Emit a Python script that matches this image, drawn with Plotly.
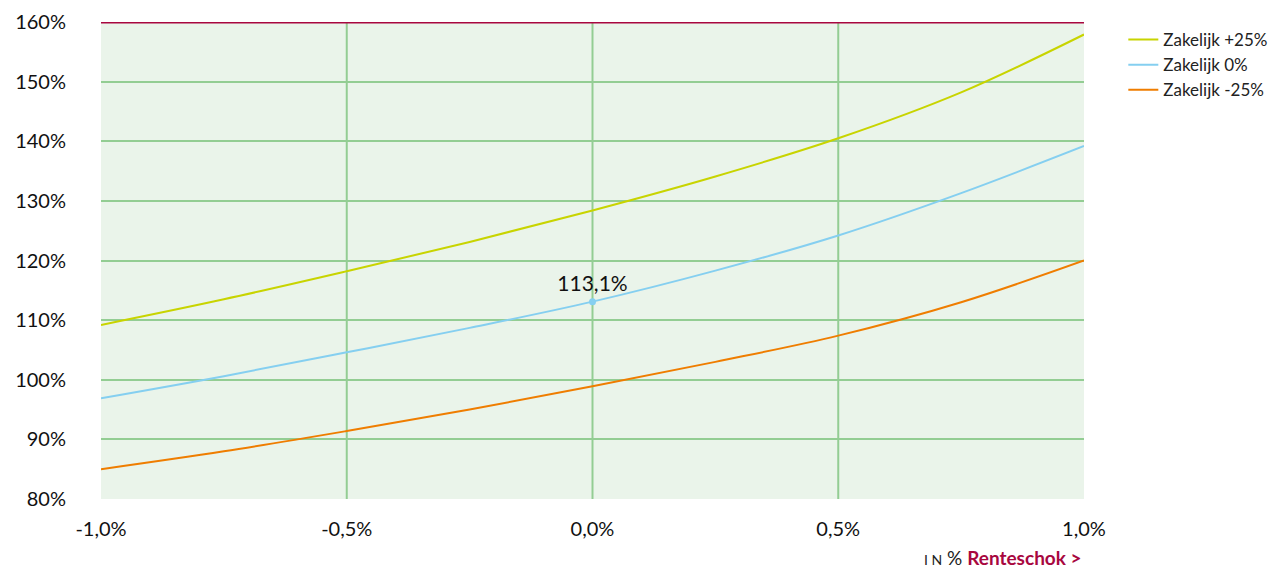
import plotly.graph_objects as go

x_vals = [-1.0, -0.75, -0.5, -0.25, 0.0, 0.25, 0.5, 0.75, 1.0]
zak_plus25 = [109.2, 113.5, 118.2, 123.1, 128.4, 134.1, 140.5, 148.2, 157.9]
zak_0 = [96.9, 100.6, 104.6, 108.7, 113.1, 118.3, 124.2, 131.3, 139.2]
zak_min25 = [85.0, 88.0, 91.4, 95.0, 98.9, 103.0, 107.4, 113.0, 120.0]
legend_names = ["Zakelijk +25%", "Zakelijk 0%", "Zakelijk -25%"]
colors = ["#c8d400", "#85cff0", "#ef7d00"]

x_tickvals = [-1.0, -0.5, 0.0, 0.5, 1.0]
x_ticktext = ["-1,0%", "-0,5%", "0,0%", "0,5%", "1,0%"]
y_tickvals = [80, 90, 100, 110, 120, 130, 140, 150, 160]
y_ticktext = [f"{v}%" for v in y_tickvals]
vgrid = [-0.5, 0.0, 0.5]
highlight_x = 0.0
highlight_y = 113.1
highlight_label = "113,1%"

FONT = "Lato, Open Sans, sans-serif"
GRID = "#93cd93"

fig = go.Figure()
for name, ys, c in zip(legend_names, [zak_plus25, zak_0, zak_min25], colors):
    fig.add_trace(go.Scatter(x=x_vals, y=ys, mode="lines", name=name,
                             line=dict(color=c, width=2, shape="spline", smoothing=1.0)))

fig.add_trace(go.Scatter(x=[highlight_x], y=[highlight_y], mode="markers+text",
                         marker=dict(color=colors[1], size=7),
                         text=[highlight_label], textposition="top center",
                         textfont=dict(size=21, color="#111111", family=FONT),
                         showlegend=False, hoverinfo="skip"))

shapes = []
for gx in vgrid:
    shapes.append(dict(type="line", xref="x", yref="paper", x0=gx, x1=gx, y0=0, y1=1,
                       line=dict(color=GRID, width=2), layer="below"))
shapes.append(dict(type="line", xref="paper", yref="y", x0=0, x1=1, y0=160, y1=160,
                   line=dict(color="#a8073f", width=3), layer="above"))

fig.update_layout(
    width=1276, height=568,
    margin=dict(l=101, r=192, t=22, b=69, autoexpand=False),
    paper_bgcolor="white", plot_bgcolor="#eaf4ea",
    font=dict(family=FONT, size=20, color="#111111"),
    shapes=shapes,
    showlegend=True,
    legend=dict(x=1.04, y=1.0, xanchor="left", yanchor="top",
                font=dict(size=17, color="#222222"), bgcolor="rgba(0,0,0,0)",
                tracegroupgap=0, itemwidth=30),
    xaxis=dict(range=[-1, 1], tickvals=x_tickvals, ticktext=x_ticktext,
               showgrid=False, zeroline=False, showline=False,
               ticks="outside", ticklen=12, tickcolor="rgba(0,0,0,0)",
               tickfont=dict(size=20)),
    yaxis=dict(range=[80, 160], tickvals=y_tickvals, ticktext=y_ticktext,
               showgrid=True, gridcolor=GRID, gridwidth=2, zeroline=False, showline=False,
               ticks="outside", ticklen=30, tickcolor="rgba(0,0,0,0)",
               tickfont=dict(size=20)),
    annotations=[dict(xref="paper", yref="paper", x=1.0, y=0, yshift=-58,
                      xanchor="right", yanchor="middle", showarrow=False,
                      text="<span style='font-size:14px'>I N</span> % <b style='color:#a8073f'>Renteschok ></b>",
                      font=dict(size=19, color="#222222"))],
)

fig.write_html("out.html")
